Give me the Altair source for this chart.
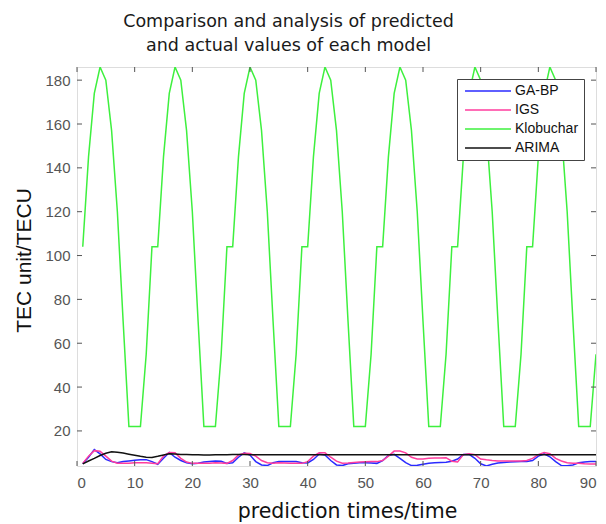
import altair as alt
import pandas as pd

# ---------------- data ----------------
times = list(range(1, 91))

ga_bp = [5.0, 8.0, 11.5, 9.5, 7.0, 6.0, 5.5, 6.0, 6.3, 6.6,
         6.8, 6.9, 6.0, 4.8, 7.5, 10.2, 8.0, 6.5, 5.5, 5.0,
         5.3, 5.8, 6.1, 6.3, 6.2, 5.2, 5.5, 8.0, 10.0, 9.0,
         6.0, 4.5, 4.2, 5.5, 6.0, 6.0, 6.0, 6.0, 5.5, 5.4,
         7.0, 9.5, 9.0, 6.5, 4.5, 4.2, 5.0, 5.3, 5.5, 5.5,
         5.4, 5.2, 6.5, 8.8, 9.3, 7.5, 5.5, 4.2, 4.3, 4.8,
         5.3, 5.5, 5.6, 5.7, 6.2, 7.2, 9.2, 9.3, 7.5, 5.0,
         4.0, 4.8, 5.4, 5.6, 5.8, 5.9, 6.0, 6.1, 6.5, 8.5,
         9.5, 8.2, 6.0, 4.2, 4.1, 4.5, 5.5, 5.8, 6.0, 6.0]

igs = [5.2, 8.5, 11.0, 10.7, 8.5, 6.2, 5.3, 5.2, 5.3, 5.5,
       5.5, 5.5, 5.3, 5.0, 8.5, 10.2, 10.0, 7.5, 5.8, 5.2,
       5.2, 5.2, 5.3, 5.5, 5.4, 5.2, 6.5, 9.0, 9.8, 9.7,
       8.5, 6.5, 5.5, 5.3, 5.5, 5.4, 5.3, 5.2, 5.2, 6.0,
       8.5, 10.0, 10.0, 8.0, 6.2, 5.3, 5.4, 5.6, 5.8, 5.9,
       6.0, 6.0, 6.5, 8.5, 10.8, 10.8, 10.0, 8.0, 7.2, 7.2,
       7.5, 7.6, 7.7, 7.8, 6.2, 5.8, 9.2, 9.6, 9.2, 7.2,
       6.8, 6.5, 6.3, 6.3, 6.3, 6.3, 6.3, 6.5, 7.5, 9.2,
       10.2, 9.6, 7.5, 6.3, 5.5, 5.2, 5.2, 5.0, 4.9, 4.9]

klobuchar = [104, 145, 174, 186, 180, 157, 120, 70, 22, 22, 22, 55, 104,
             104, 145, 174, 186, 180, 157, 120, 70, 22, 22, 22, 55, 104,
             104, 145, 174, 186, 180, 157, 120, 70, 22, 22, 22, 55, 104,
             104, 145, 174, 186, 180, 157, 120, 70, 22, 22, 22, 55, 104,
             104, 145, 174, 186, 180, 157, 120, 70, 22, 22, 22, 55, 104,
             104, 145, 174, 186, 180, 157, 120, 70, 22, 22, 22, 55, 104,
             104, 145, 174, 186, 180, 157, 120, 70, 22, 22, 22, 55]

arima = [5.0, 6.3, 7.5, 8.8, 9.8, 10.5, 10.3, 9.9, 9.4, 8.9,
         8.4, 8.0, 7.9, 8.4, 9.0, 9.6, 9.5, 9.3, 9.2, 9.1,
         9.1, 9.0, 9.0, 9.1, 9.1, 9.1, 9.2, 9.2, 9.2, 9.1,
         9.1, 9.1, 9.1, 9.1, 9.1, 9.1, 9.1, 9.1, 9.1, 9.1,
         9.1, 9.1, 9.1, 9.1, 9.1, 9.1, 9.1, 9.1, 9.1, 9.1,
         9.1, 9.1, 9.1, 9.1, 9.1, 9.1, 9.1, 9.1, 9.1, 9.1,
         9.1, 9.1, 9.1, 9.1, 9.1, 9.1, 9.1, 9.1, 9.1, 9.1,
         9.1, 9.1, 9.1, 9.1, 9.1, 9.1, 9.1, 9.1, 9.1, 9.1,
         9.1, 9.1, 9.1, 9.1, 9.1, 9.1, 9.1, 9.1, 9.1, 9.1]

series_names = ["GA-BP", "IGS", "Klobuchar", "ARIMA"]
series_colors = ["#2a2aff", "#ff3d9e", "#3ef03e", "#111111"]

x_ticks = [0, 10, 20, 30, 40, 50, 60, 70, 80, 90]
y_ticks = [20, 40, 60, 80, 100, 120, 140, 160, 180]

x_domain = [0, 90]
y_domain = [4, 186]

title_lines = ["Comparison and analysis of predicted",
               "and actual values of each model"]
x_title = "prediction times/time"
y_title = "TEC unit/TECU"

# ---------------- tables ----------------
rows = []
for name, vals in zip(series_names, [ga_bp, igs, klobuchar, arima]):
    for t, v in zip(times, vals):
        rows.append({"time": t, "value": v, "model": name})
df = pd.DataFrame(rows)
xt = pd.DataFrame({"time": x_ticks})
yt = pd.DataFrame({"value": y_ticks})

W, H = 519, 399
AX = "#555555"

xscale = alt.Scale(domain=x_domain, nice=False, zero=False)
yscale = alt.Scale(domain=y_domain, nice=False, zero=False)

xaxis = alt.Axis(values=x_ticks, title=x_title, grid=False, ticks=False,
                 domain=False, labelFont="Liberation Sans", labelFontSize=15,
                 labelColor="#555555", labelPadding=9, titleFont="DejaVu Sans",
                 titleFontSize=20.5, titleFontWeight="normal", titleColor="#111111",
                 titlePadding=11, titleX=270)
yaxis = alt.Axis(values=y_ticks, title=y_title, grid=False, ticks=False,
                 domain=False, labelFont="Liberation Sans", labelFontSize=15,
                 labelColor="#555555", labelPadding=7, titleFont="Liberation Sans",
                 titleFontSize=21, titleFontWeight="normal", titleColor="#111111",
                 titlePadding=10, titleY=193)

lines = alt.Chart(df).mark_line(strokeWidth=1.5, clip=True).encode(
    x=alt.X("time:Q", scale=xscale, axis=xaxis, title=x_title),
    y=alt.Y("value:Q", scale=yscale, axis=yaxis, title=y_title),
    color=alt.Color("model:N",
                    scale=alt.Scale(domain=series_names, range=series_colors),
                    sort=series_names,
                    legend=alt.Legend(title=None, orient="none", legendX=380, legendY=12,
                                      fillColor="white", strokeColor="#444444",
                                      padding=5, rowPadding=5,
                                      symbolType="M-4,0H4", symbolSize=132,
                                      symbolStrokeWidth=1.5, symbolOffset=19,
                                      labelOffset=20, labelFont="Liberation Sans",
                                      labelFontSize=14, labelColor="#111111")),
)

tick_b = alt.Chart(xt).mark_rule(color=AX, strokeWidth=1).encode(
    x=alt.X("time:Q", scale=xscale, axis=xaxis, title=x_title),
    y=alt.value(H), y2=alt.value(H - 5))
tick_t = alt.Chart(xt).mark_rule(color=AX, strokeWidth=1).encode(
    x=alt.X("time:Q", scale=xscale, axis=xaxis, title=x_title),
    y=alt.value(0), y2=alt.value(5))
tick_l = alt.Chart(yt).mark_rule(color=AX, strokeWidth=1).encode(
    y=alt.Y("value:Q", scale=yscale, axis=yaxis, title=y_title),
    x=alt.value(0), x2=alt.value(5))
tick_r = alt.Chart(yt).mark_rule(color=AX, strokeWidth=1).encode(
    y=alt.Y("value:Q", scale=yscale, axis=yaxis, title=y_title),
    x=alt.value(W - 5), x2=alt.value(W))

chart = alt.layer(lines, tick_b, tick_t, tick_l, tick_r).properties(
    width=W, height=H,
    title=alt.TitleParams(text=title_lines, font="DejaVu Sans", fontSize=17.5,
                          fontWeight="normal", color="#1a1a1a", lineHeight=24,
                          anchor="middle", dx=-48, offset=12),
    autosize=alt.AutoSizeParams(type="none"),
    padding={"left": 77, "top": 67, "right": 10, "bottom": 58},
).configure_view(stroke=AX, strokeWidth=1).configure(background="white")

chart.save("out.html", embed_options={"renderer": "svg", "actions": False})
